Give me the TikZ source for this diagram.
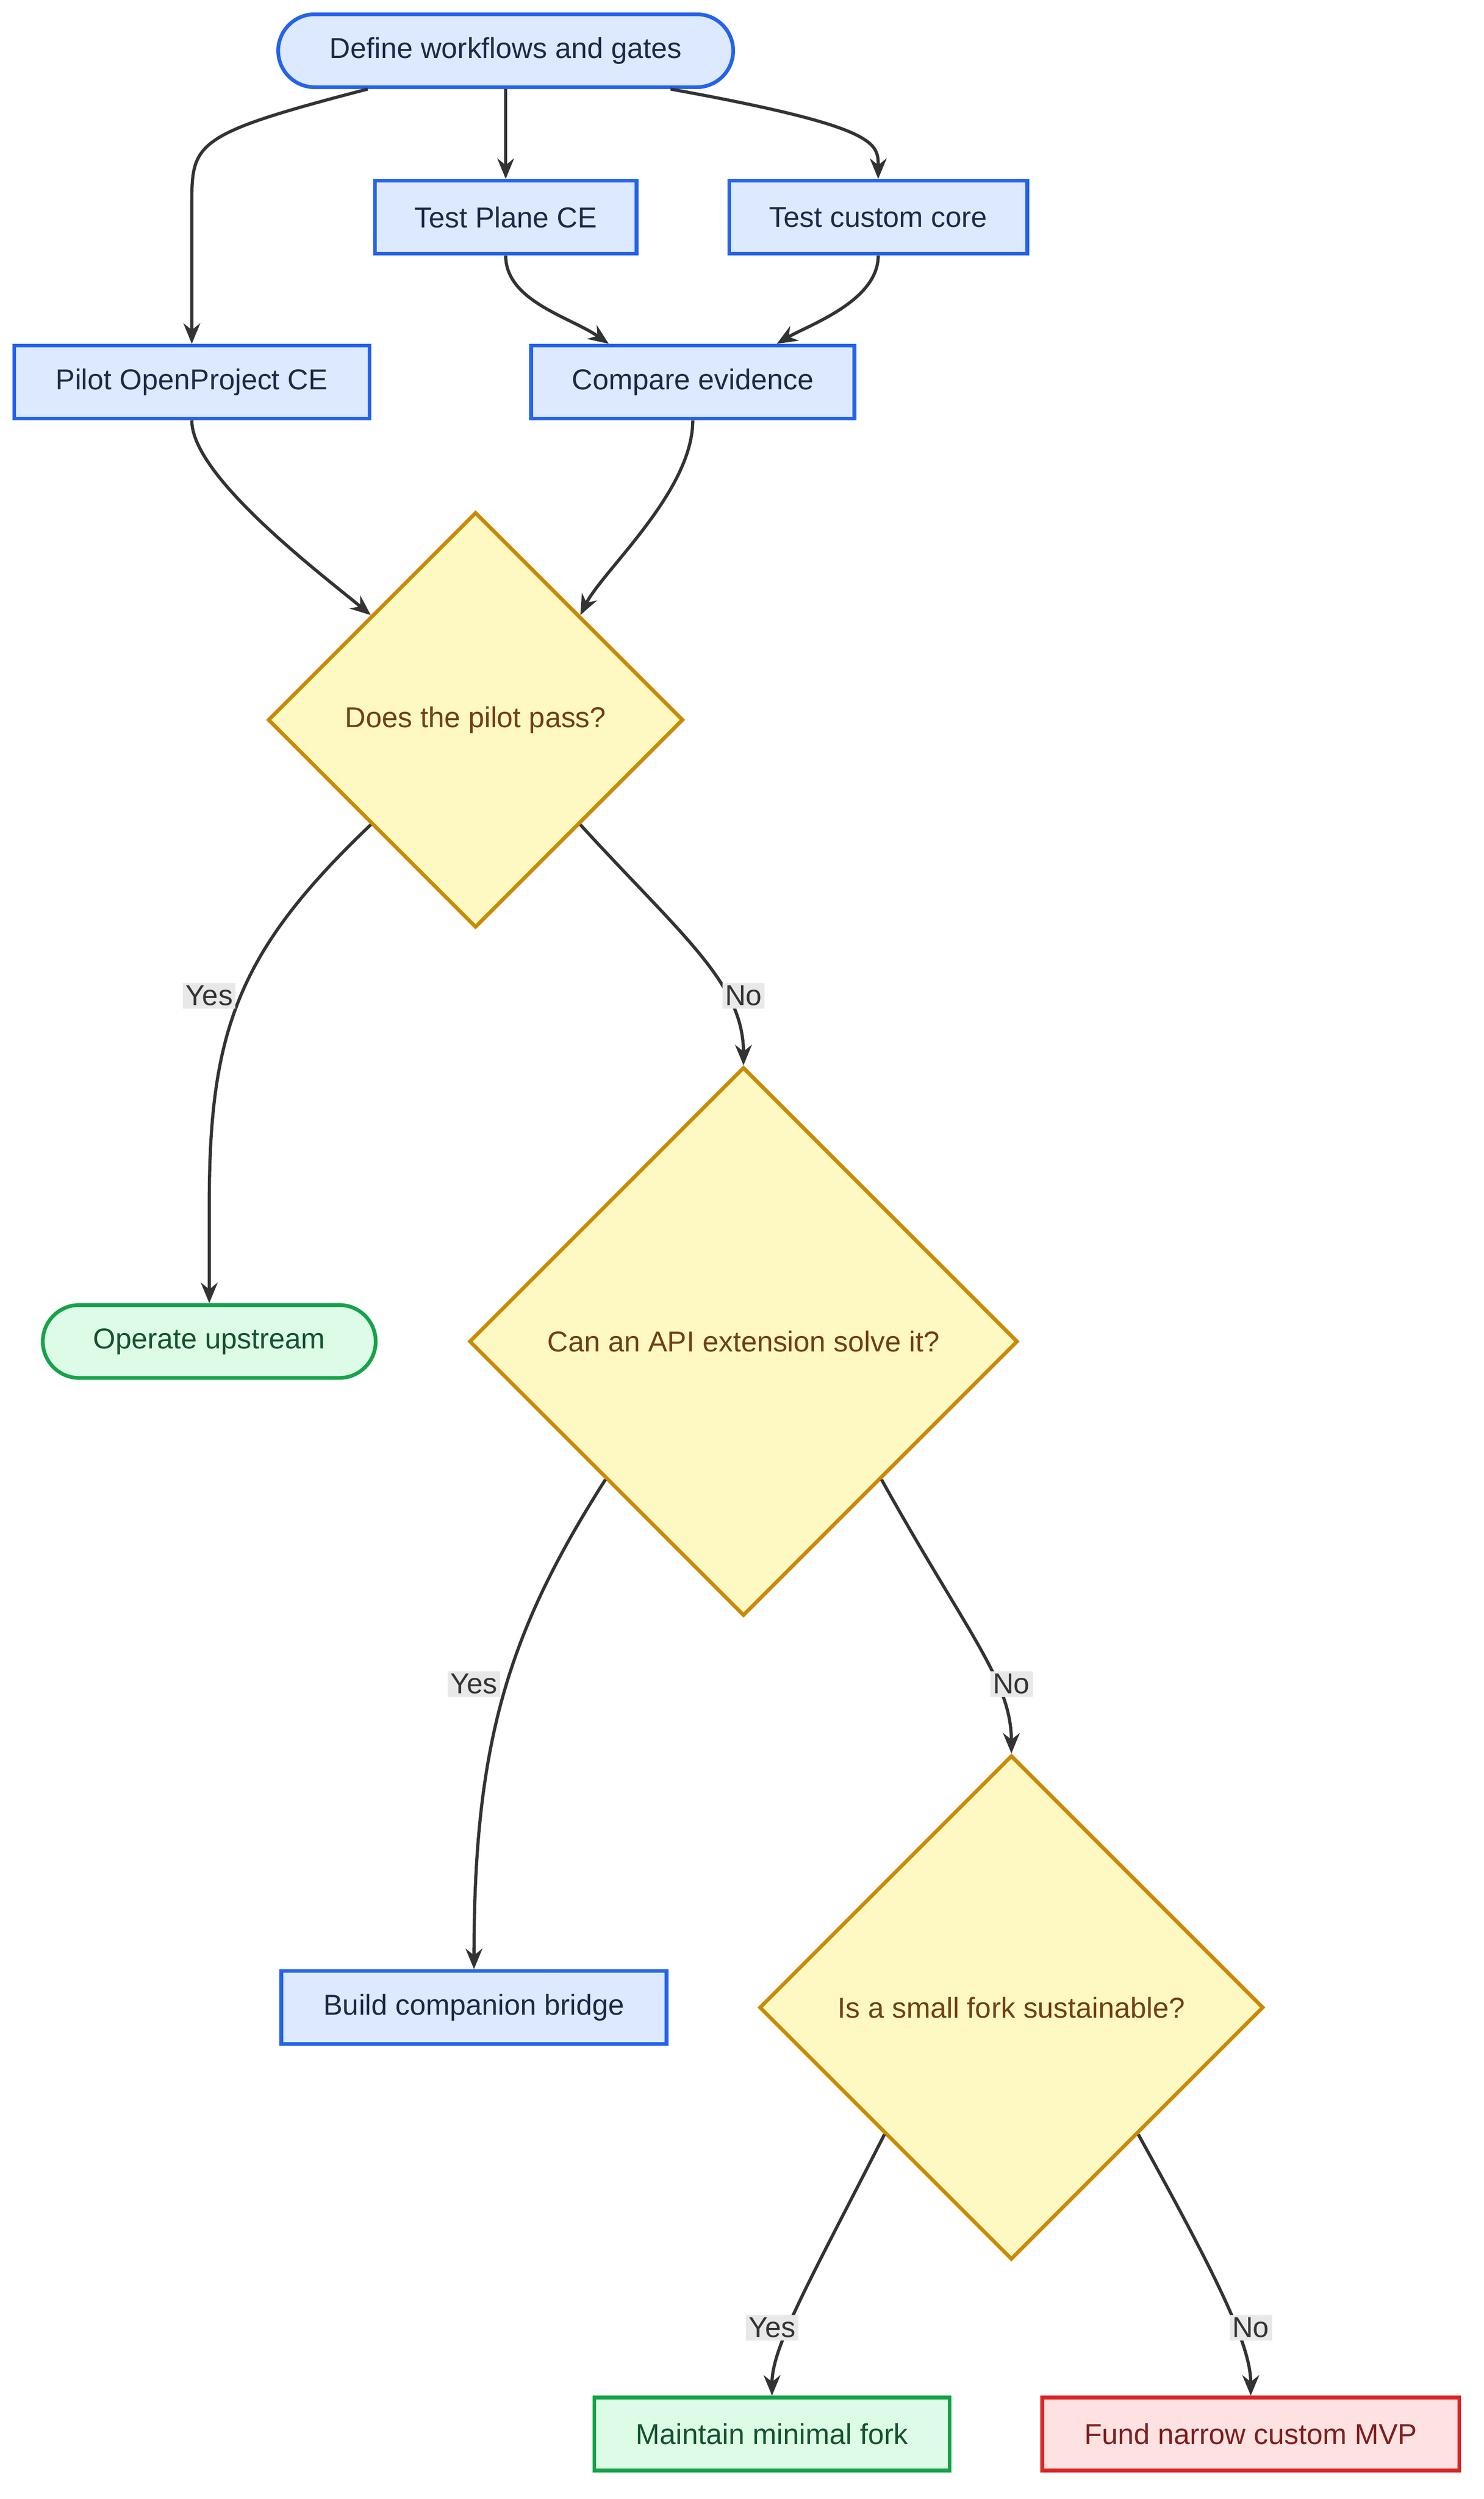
\documentclass[tikz,border=0pt]{standalone}
\usepackage{fontspec}
\setmainfont{Liberation Sans}
\usetikzlibrary{shapes.geometric,arrows.meta,calc}
\definecolor{bfill}{RGB}{220,233,254}
\definecolor{bdraw}{RGB}{37,99,235}
\definecolor{btext}{RGB}{30,41,70}
\definecolor{yfill}{RGB}{254,249,195}
\definecolor{ydraw}{RGB}{202,138,4}
\definecolor{ytext}{RGB}{113,63,18}
\definecolor{gfill}{RGB}{220,252,231}
\definecolor{gdraw}{RGB}{22,163,74}
\definecolor{gtext}{RGB}{20,83,45}
\definecolor{rfill}{RGB}{254,226,226}
\definecolor{rdraw}{RGB}{220,38,38}
\definecolor{rtext}{RGB}{127,29,29}
\definecolor{edge}{RGB}{51,51,51}
\definecolor{lbg}{RGB}{232,232,232}
\begin{document}
\begin{tikzpicture}[x=0.03cm,y=-0.03cm,
  every node/.style={font=\fontsize{15.5}{18}\selectfont},
  box/.style={draw=bdraw,fill=bfill,text=btext,line width=2pt,minimum height=1.38cm,inner xsep=8pt},
  pill/.style={box,rounded corners=0.69cm},
  gpill/.style={pill,draw=gdraw,fill=gfill,text=gtext},
  gbox/.style={box,draw=gdraw,fill=gfill,text=gtext},
  rbox/.style={box,draw=rdraw,fill=rfill,text=rtext},
  dia/.style={diamond,aspect=1,draw=ydraw,fill=yfill,text=ytext,line width=2pt,inner sep=0pt},
  arr/.style={draw=edge,line width=1.7pt,-{Stealth[length=11pt,width=9pt]}},
  lab/.style={fill=lbg,inner sep=1.5pt,text=edge}]
\useasboundingbox (0,0) rectangle (936,1576);
\node[pill,minimum width=287*0.03cm] (def) at (319,32) {Define workflows and gates};
\node[box,minimum width=165*0.03cm] (tp) at (319,137) {Test Plane CE};
\node[box,minimum width=188*0.03cm] (tc) at (554,137) {Test custom core};
\node[box,minimum width=224*0.03cm] (pi) at (121,241) {Pilot OpenProject CE};
\node[box,minimum width=204*0.03cm] (ce) at (437,241) {Compare evidence};
\node[dia,minimum width=262*0.03cm,minimum height=262*0.03cm] (d1) at (300,454) {Does the pilot pass?};
\node[gpill,minimum width=210*0.03cm] (op) at (132,846) {Operate upstream};
\node[dia,minimum width=346*0.03cm,minimum height=346*0.03cm] (d2) at (469,846) {Can an API extension solve it?};
\node[box,minimum width=243*0.03cm] (bb) at (299,1266) {Build companion bridge};
\node[dia,minimum width=318*0.03cm,minimum height=318*0.03cm] (d3) at (638,1266) {Is a small fork sustainable?};
\node[gbox,minimum width=224*0.03cm] (mf) at (487,1535) {Maintain minimal fork};
\node[rbox,minimum width=263*0.03cm] (fm) at (789,1535) {Fund narrow custom MVP};

\draw[arr] ($(def.south)+(-87,0)$) .. controls (121,85) and (121,90) .. (121,130) -- (pi.north);
\draw[arr] (def.south) -- (tp.north);
\draw[arr] ($(def.south)+(104,0)$) .. controls (554,80) and (554,90) .. (tc.north);
\draw[arr] (tp.south) .. controls (319,190) and (360,200) .. ($(ce.north)+(-53,0)$);
\draw[arr] (tc.south) .. controls (554,190) and (510,205) .. ($(ce.north)+(53,0)$);
\draw[arr] (pi.south) .. controls (121,300) and (200,360) .. (d1.north west);
\draw[arr] (ce.south) .. controls (437,310) and (380,360) .. (d1.north east);
\draw[arr] (d1.south west) .. controls (150,600) and (132,650) .. (132,760) -- (op.north);
\draw[arr] (d1.south east) .. controls (430,590) and (469,620) .. (d2.north);
\draw[arr] (d2.south west) .. controls (320,1030) and (299,1100) .. (bb.north);
\draw[arr] (d2.south east) .. controls (610,1030) and (638,1060) .. (d3.north);
\draw[arr] (d3.south west) .. controls (510,1440) and (487,1480) .. (mf.north);
\draw[arr] (d3.south east) .. controls (770,1440) and (789,1480) .. (fm.north);
\node[lab] (l1) at (132,628) {Yes};
\node[lab] (l2) at (469,628) {No};
\node[lab] (l3) at (299,1062) {Yes};
\node[lab] (l4) at (638,1062) {No};
\node[lab] (l5) at (487,1468) {Yes};
\node[lab] (l6) at (789,1468) {No};
\end{tikzpicture}
\end{document}
